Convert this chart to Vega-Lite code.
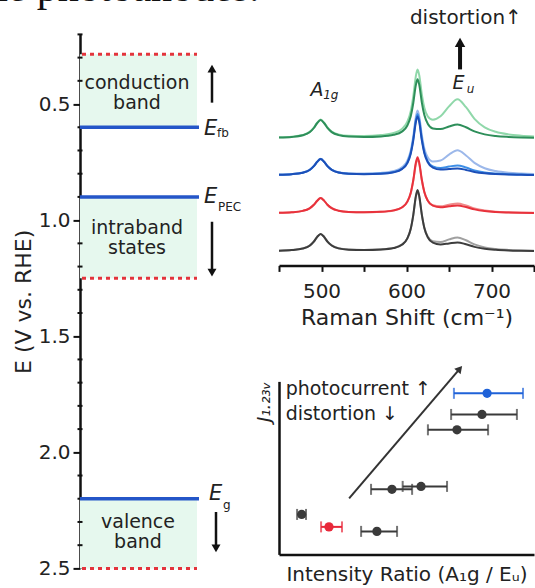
{
"$schema": "https://vega.github.io/schema/vega-lite/v6.json",
"background": "white",
"padding": {"left": -25, "top": -33.6, "right": 0, "bottom": 6},
"config": {"view": {"stroke": null}, "font": "DejaVu Sans", "axis": {"grid": false, "domainColor": "#111", "tickColor": "#111", "labelColor": "#222", "titleColor": "#222", "titleFontWeight": "normal", "labelFont": "DejaVu Sans", "titleFont": "DejaVu Sans", "labelOverlap": false}},
"spacing": 29,
"bounds": "flush",
"datasets": {
"header": [{"x":-105,"y":0.056,"t":"the photoanodes."}],
"minorTicks": [{"x":0,"y":0.2},{"x":0,"y":0.3},{"x":0,"y":0.4},{"x":0,"y":0.6},{"x":0,"y":0.7},{"x":0,"y":0.8},{"x":0,"y":0.9},{"x":0,"y":1.1},{"x":0,"y":1.2},{"x":0,"y":1.3},{"x":0,"y":1.4},{"x":0,"y":1.6},{"x":0,"y":1.7},{"x":0,"y":1.8},{"x":0,"y":1.9},{"x":0,"y":2.1},{"x":0,"y":2.2},{"x":0,"y":2.3},{"x":0,"y":2.4}],
"bands": [{"x0":0,"x1":117,"y0":0.285,"y1":0.6},{"x0":0,"x1":117,"y0":0.9,"y1":1.25},{"x0":0,"x1":117,"y0":2.2,"y1":2.5}],
"redlines": [{"x0":2,"x1":117,"y":0.285},{"x0":2,"x1":117,"y":1.25},{"x0":2,"x1":117,"y":2.5}],
"bluelines": [{"x0":0,"x1":119,"y":0.6},{"x0":0,"x1":119,"y":0.9},{"x0":0,"x1":119,"y":2.2}],
"arrows": [{"x":132,"y0":0.494,"y1":0.36},{"x":132,"y0":1.007,"y1":1.215},{"x":136,"y0":2.257,"y1":2.405}],
"headsUp": [{"x":132,"y":0.347}],
"headsDown": [{"x":132,"y":1.226},{"x":136,"y":2.414}],
"bandtext": [{"x":57,"y":0.408,"t":"conduction\nband"},{"x":57,"y":1.036,"t":"intraband\nstates"},{"x":58,"y":2.302,"t":"valence\nband"}],
"eLetters": [{"x":124,"y":0.606,"t":"E"},{"x":124,"y":0.9,"t":"E"},{"x":129,"y":2.18,"t":"E"}],
"eSubs": [{"x":137,"y":0.625,"t":"fb"},{"x":138,"y":0.943,"t":"PEC"},{"x":143,"y":2.225,"t":"g"}],
"ramanBig": [{"x":487,"y":169,"t":"A"},{"x":654,"y":176,"t":"E"}],
"ramanSub": [{"x":502,"y":166,"t":"1g"},{"x":671,"y":172,"t":"u"}],
"ramanNote": [{"x":604,"y":241,"t":"distortion↑"}],
"ramanArrow": [{"x":663,"y0":196,"y1":220}],
"ramanHead": [{"x":663,"y":223}],
"pts": [{"x":81.6,"lo":68.6,"hi":95.7,"y":93.1,"c":"blue"},{"x":79.6,"lo":67.5,"hi":93.3,"y":80.9,"c":"dark"},{"x":69.8,"lo":58.4,"hi":82.0,"y":72.0,"c":"dark"},{"x":55.7,"lo":48.5,"hi":65.9,"y":39.3,"c":"dark"},{"x":44.3,"lo":36.1,"hi":52.2,"y":37.6,"c":"dark"},{"x":8.9,"lo":7.1,"hi":10.6,"y":23.1,"c":"dark"},{"x":19.6,"lo":16.5,"hi":24.7,"y":15.9,"c":"red"},{"x":38.4,"lo":32.2,"hi":46.3,"y":13.3,"c":"dark"}],
"sArrow": [{"x":27.5,"y":32.4,"x2":70.7,"y2":107.0}],
"sHead": [{"x":70.9,"y":107.3}],
"sText": [{"x":2.6,"y":95.4,"t":"photocurrent ↑"},{"x":2.6,"y":80.9,"t":"distortion ↓"}],
"raman": [
{"s":"g2","x":450,"y":128.1},{"s":"g2","x":465,"y":128.7},{"s":"g2","x":478,"y":130.4},{"s":"g2","x":486,"y":133.5},{"s":"g2","x":491,"y":137.8},{"s":"g2","x":495,"y":142.8},{"s":"g2","x":499,"y":145.8},{"s":"g2","x":503,"y":142.8},{"s":"g2","x":507,"y":138.0},{"s":"g2","x":512,"y":133.8},{"s":"g2","x":520,"y":130.9},{"s":"g2","x":532,"y":129.6},{"s":"g2","x":550,"y":129.4},{"s":"g2","x":570,"y":130.3},{"s":"g2","x":585,"y":132.5},{"s":"g2","x":595,"y":136.8},{"s":"g2","x":601,"y":143.7},{"s":"g2","x":605,"y":154.3},{"s":"g2","x":608,"y":169.2},{"s":"g2","x":611,"y":189.3},{"s":"g2","x":613,"y":195.9},{"s":"g2","x":615,"y":190.1},{"s":"g2","x":618,"y":171.3},{"s":"g2","x":621,"y":157.7},{"s":"g2","x":625,"y":149.1},{"s":"g2","x":631,"y":145.7},{"s":"g2","x":640,"y":149.1},{"s":"g2","x":650,"y":159.0},{"s":"g2","x":660,"y":166.1},{"s":"g2","x":670,"y":158.2},{"s":"g2","x":680,"y":146.6},{"s":"g2","x":692,"y":138.1},{"s":"g2","x":705,"y":133.6},{"s":"g2","x":720,"y":131.0},{"s":"g2","x":735,"y":129.7},{"s":"g2","x":750,"y":128.9},
{"s":"g1","x":450,"y":127.8},{"s":"g1","x":465,"y":128.4},{"s":"g1","x":478,"y":130.1},{"s":"g1","x":486,"y":133.1},{"s":"g1","x":491,"y":137.4},{"s":"g1","x":495,"y":142.4},{"s":"g1","x":499,"y":145.4},{"s":"g1","x":503,"y":142.4},{"s":"g1","x":507,"y":137.5},{"s":"g1","x":512,"y":133.3},{"s":"g1","x":520,"y":130.3},{"s":"g1","x":532,"y":128.9},{"s":"g1","x":550,"y":128.5},{"s":"g1","x":570,"y":129.0},{"s":"g1","x":585,"y":130.6},{"s":"g1","x":595,"y":134.0},{"s":"g1","x":601,"y":139.9},{"s":"g1","x":605,"y":149.2},{"s":"g1","x":608,"y":162.4},{"s":"g1","x":611,"y":180.3},{"s":"g1","x":613,"y":186.1},{"s":"g1","x":615,"y":180.6},{"s":"g1","x":618,"y":163.1},{"s":"g1","x":621,"y":150.3},{"s":"g1","x":625,"y":141.7},{"s":"g1","x":631,"y":137.0},{"s":"g1","x":640,"y":136.3},{"s":"g1","x":650,"y":138.9},{"s":"g1","x":660,"y":141.0},{"s":"g1","x":670,"y":138.1},{"s":"g1","x":680,"y":134.0},{"s":"g1","x":692,"y":131.0},{"s":"g1","x":705,"y":129.4},{"s":"g1","x":720,"y":128.5},{"s":"g1","x":735,"y":128.0},{"s":"g1","x":750,"y":127.7},
{"s":"b3","x":450,"y":90.9},{"s":"b3","x":465,"y":91.4},{"s":"b3","x":478,"y":92.9},{"s":"b3","x":486,"y":95.6},{"s":"b3","x":491,"y":99.5},{"s":"b3","x":495,"y":103.9},{"s":"b3","x":499,"y":106.6},{"s":"b3","x":503,"y":103.9},{"s":"b3","x":507,"y":99.5},{"s":"b3","x":512,"y":95.8},{"s":"b3","x":520,"y":93.2},{"s":"b3","x":532,"y":92.0},{"s":"b3","x":550,"y":91.8},{"s":"b3","x":570,"y":92.5},{"s":"b3","x":585,"y":94.4},{"s":"b3","x":595,"y":98.4},{"s":"b3","x":601,"y":104.8},{"s":"b3","x":605,"y":114.9},{"s":"b3","x":608,"y":129.2},{"s":"b3","x":611,"y":148.5},{"s":"b3","x":613,"y":154.8},{"s":"b3","x":615,"y":149.0},{"s":"b3","x":618,"y":130.5},{"s":"b3","x":621,"y":117.0},{"s":"b3","x":625,"y":108.2},{"s":"b3","x":631,"y":103.9},{"s":"b3","x":640,"y":104.9},{"s":"b3","x":650,"y":110.8},{"s":"b3","x":660,"y":115.1},{"s":"b3","x":670,"y":109.9},{"s":"b3","x":680,"y":102.5},{"s":"b3","x":692,"y":97.2},{"s":"b3","x":705,"y":94.3},{"s":"b3","x":720,"y":92.6},{"s":"b3","x":735,"y":91.8},{"s":"b3","x":750,"y":91.3},
{"s":"b2","x":450,"y":90.7},{"s":"b2","x":465,"y":91.2},{"s":"b2","x":478,"y":92.7},{"s":"b2","x":486,"y":95.4},{"s":"b2","x":491,"y":99.2},{"s":"b2","x":495,"y":103.6},{"s":"b2","x":499,"y":106.3},{"s":"b2","x":503,"y":103.7},{"s":"b2","x":507,"y":99.3},{"s":"b2","x":512,"y":95.6},{"s":"b2","x":520,"y":92.9},{"s":"b2","x":532,"y":91.7},{"s":"b2","x":550,"y":91.3},{"s":"b2","x":570,"y":91.8},{"s":"b2","x":585,"y":93.4},{"s":"b2","x":595,"y":97.0},{"s":"b2","x":601,"y":103.0},{"s":"b2","x":605,"y":112.8},{"s":"b2","x":608,"y":126.7},{"s":"b2","x":611,"y":145.4},{"s":"b2","x":613,"y":151.5},{"s":"b2","x":615,"y":145.6},{"s":"b2","x":618,"y":127.1},{"s":"b2","x":621,"y":113.5},{"s":"b2","x":625,"y":104.3},{"s":"b2","x":631,"y":99.0},{"s":"b2","x":640,"y":97.4},{"s":"b2","x":650,"y":98.8},{"s":"b2","x":660,"y":100.0},{"s":"b2","x":670,"y":97.9},{"s":"b2","x":680,"y":95.0},{"s":"b2","x":692,"y":92.9},{"s":"b2","x":705,"y":91.8},{"s":"b2","x":720,"y":91.1},{"s":"b2","x":735,"y":90.8},{"s":"b2","x":750,"y":90.5},
{"s":"b1","x":450,"y":90.7},{"s":"b1","x":465,"y":91.2},{"s":"b1","x":478,"y":92.7},{"s":"b1","x":486,"y":95.4},{"s":"b1","x":491,"y":99.2},{"s":"b1","x":495,"y":103.6},{"s":"b1","x":499,"y":106.3},{"s":"b1","x":503,"y":103.6},{"s":"b1","x":507,"y":99.2},{"s":"b1","x":512,"y":95.5},{"s":"b1","x":520,"y":92.8},{"s":"b1","x":532,"y":91.6},{"s":"b1","x":550,"y":91.2},{"s":"b1","x":570,"y":91.6},{"s":"b1","x":585,"y":93.1},{"s":"b1","x":595,"y":96.5},{"s":"b1","x":601,"y":102.3},{"s":"b1","x":605,"y":111.7},{"s":"b1","x":608,"y":125.1},{"s":"b1","x":611,"y":143.2},{"s":"b1","x":613,"y":149.0},{"s":"b1","x":615,"y":143.3},{"s":"b1","x":618,"y":125.4},{"s":"b1","x":621,"y":112.2},{"s":"b1","x":625,"y":103.2},{"s":"b1","x":631,"y":97.8},{"s":"b1","x":640,"y":95.8},{"s":"b1","x":650,"y":96.3},{"s":"b1","x":660,"y":97.0},{"s":"b1","x":670,"y":95.5},{"s":"b1","x":680,"y":93.5},{"s":"b1","x":692,"y":92.1},{"s":"b1","x":705,"y":91.3},{"s":"b1","x":720,"y":90.8},{"s":"b1","x":735,"y":90.6},{"s":"b1","x":750,"y":90.4},
{"s":"r2","x":450,"y":52.6},{"s":"r2","x":465,"y":53.1},{"s":"r2","x":478,"y":54.5},{"s":"r2","x":486,"y":57.1},{"s":"r2","x":491,"y":60.6},{"s":"r2","x":495,"y":64.7},{"s":"r2","x":499,"y":67.3},{"s":"r2","x":503,"y":64.8},{"s":"r2","x":507,"y":60.7},{"s":"r2","x":512,"y":57.2},{"s":"r2","x":520,"y":54.7},{"s":"r2","x":532,"y":53.5},{"s":"r2","x":550,"y":53.2},{"s":"r2","x":570,"y":53.7},{"s":"r2","x":585,"y":55.0},{"s":"r2","x":595,"y":58.2},{"s":"r2","x":601,"y":63.6},{"s":"r2","x":605,"y":72.2},{"s":"r2","x":608,"y":84.6},{"s":"r2","x":611,"y":101.1},{"s":"r2","x":613,"y":106.5},{"s":"r2","x":615,"y":101.3},{"s":"r2","x":618,"y":85.1},{"s":"r2","x":621,"y":73.1},{"s":"r2","x":625,"y":64.9},{"s":"r2","x":631,"y":60.2},{"s":"r2","x":640,"y":59.1},{"s":"r2","x":650,"y":60.7},{"s":"r2","x":660,"y":61.9},{"s":"r2","x":670,"y":59.9},{"s":"r2","x":680,"y":57.0},{"s":"r2","x":692,"y":54.9},{"s":"r2","x":705,"y":53.7},{"s":"r2","x":720,"y":53.1},{"s":"r2","x":735,"y":52.7},{"s":"r2","x":750,"y":52.6},
{"s":"r1","x":450,"y":52.6},{"s":"r1","x":465,"y":53.1},{"s":"r1","x":478,"y":54.5},{"s":"r1","x":486,"y":57.1},{"s":"r1","x":491,"y":60.6},{"s":"r1","x":495,"y":64.7},{"s":"r1","x":499,"y":67.3},{"s":"r1","x":503,"y":64.8},{"s":"r1","x":507,"y":60.7},{"s":"r1","x":512,"y":57.2},{"s":"r1","x":520,"y":54.7},{"s":"r1","x":532,"y":53.5},{"s":"r1","x":550,"y":53.2},{"s":"r1","x":570,"y":53.6},{"s":"r1","x":585,"y":55.0},{"s":"r1","x":595,"y":58.2},{"s":"r1","x":601,"y":63.8},{"s":"r1","x":605,"y":72.7},{"s":"r1","x":608,"y":85.5},{"s":"r1","x":611,"y":102.6},{"s":"r1","x":613,"y":108.2},{"s":"r1","x":615,"y":102.8},{"s":"r1","x":618,"y":85.9},{"s":"r1","x":621,"y":73.4},{"s":"r1","x":625,"y":64.8},{"s":"r1","x":631,"y":59.8},{"s":"r1","x":640,"y":58.2},{"s":"r1","x":650,"y":59.1},{"s":"r1","x":660,"y":59.9},{"s":"r1","x":670,"y":58.3},{"s":"r1","x":680,"y":56.0},{"s":"r1","x":692,"y":54.3},{"s":"r1","x":705,"y":53.4},{"s":"r1","x":720,"y":52.9},{"s":"r1","x":735,"y":52.6},{"s":"r1","x":750,"y":52.5},
{"s":"k2","x":450,"y":14.7},{"s":"k2","x":465,"y":15.4},{"s":"k2","x":478,"y":17.0},{"s":"k2","x":486,"y":19.8},{"s":"k2","x":491,"y":23.9},{"s":"k2","x":495,"y":28.6},{"s":"k2","x":499,"y":31.4},{"s":"k2","x":503,"y":28.6},{"s":"k2","x":507,"y":23.9},{"s":"k2","x":512,"y":20.0},{"s":"k2","x":520,"y":17.1},{"s":"k2","x":532,"y":15.8},{"s":"k2","x":550,"y":15.4},{"s":"k2","x":570,"y":16.0},{"s":"k2","x":585,"y":17.5},{"s":"k2","x":595,"y":21.0},{"s":"k2","x":601,"y":27.1},{"s":"k2","x":605,"y":36.6},{"s":"k2","x":608,"y":50.1},{"s":"k2","x":611,"y":68.2},{"s":"k2","x":613,"y":74.1},{"s":"k2","x":615,"y":68.4},{"s":"k2","x":618,"y":50.8},{"s":"k2","x":621,"y":37.7},{"s":"k2","x":625,"y":28.9},{"s":"k2","x":631,"y":24.1},{"s":"k2","x":640,"y":23.3},{"s":"k2","x":650,"y":26.0},{"s":"k2","x":660,"y":28.0},{"s":"k2","x":670,"y":25.1},{"s":"k2","x":680,"y":21.0},{"s":"k2","x":692,"y":18.0},{"s":"k2","x":705,"y":16.4},{"s":"k2","x":720,"y":15.5},{"s":"k2","x":735,"y":15.0},{"s":"k2","x":750,"y":14.7},
{"s":"k1","x":450,"y":14.7},{"s":"k1","x":465,"y":15.3},{"s":"k1","x":478,"y":16.9},{"s":"k1","x":486,"y":19.7},{"s":"k1","x":491,"y":23.8},{"s":"k1","x":495,"y":28.5},{"s":"k1","x":499,"y":31.3},{"s":"k1","x":503,"y":28.5},{"s":"k1","x":507,"y":23.8},{"s":"k1","x":512,"y":19.9},{"s":"k1","x":520,"y":17.0},{"s":"k1","x":532,"y":15.7},{"s":"k1","x":550,"y":15.3},{"s":"k1","x":570,"y":15.8},{"s":"k1","x":585,"y":17.3},{"s":"k1","x":595,"y":20.8},{"s":"k1","x":601,"y":27.0},{"s":"k1","x":605,"y":36.7},{"s":"k1","x":608,"y":50.6},{"s":"k1","x":611,"y":69.3},{"s":"k1","x":613,"y":75.3},{"s":"k1","x":615,"y":69.4},{"s":"k1","x":618,"y":51.0},{"s":"k1","x":621,"y":37.4},{"s":"k1","x":625,"y":28.1},{"s":"k1","x":631,"y":22.7},{"s":"k1","x":640,"y":20.9},{"s":"k1","x":650,"y":22.0},{"s":"k1","x":660,"y":23.0},{"s":"k1","x":670,"y":21.1},{"s":"k1","x":680,"y":18.5},{"s":"k1","x":692,"y":16.6},{"s":"k1","x":705,"y":15.6},{"s":"k1","x":720,"y":15.0},{"s":"k1","x":735,"y":14.7},{"s":"k1","x":750,"y":14.5}
]
},
"hconcat": [
{
"width": 170, "height": 534,
"layer": [
{"data": {"name": "bands"}, "mark": {"type": "rect", "fill": "#e6f8ee"},
 "encoding": {"x": {"field": "x0", "type": "quantitative", "scale": {"domain": [0, 170], "nice": false}, "axis": null}, "x2": {"field": "x1"},
  "y": {"field": "y0", "type": "quantitative", "scale": {"domain": [0.2, 2.5], "reverse": true, "nice": false, "zero": false},
   "axis": {"title": "E (V vs. RHE)", "values": [0.5, 1.0, 1.5, 2.0, 2.5], "format": ".1f", "labelOverlap": false,
    "tickSize": 7, "tickWidth": 2, "domainWidth": 2.5, "labelFontSize": 20, "labelPadding": 3, "titleFontSize": 22, "titlePadding": 3, "titleY": 267}},
  "y2": {"field": "y1"}}},
{"data": {"name": "header"}, "mark": {"type": "text", "font": "Liberation Serif", "fontSize": 42, "color": "#111", "align": "left", "baseline": "alphabetic"},
 "encoding": {"x": {"field": "x", "type": "quantitative", "scale": {"domain": [0, 170], "nice": false}, "axis": null},
  "y": {"field": "y", "type": "quantitative", "scale": {"domain": [0.2, 2.5], "reverse": true, "nice": false, "zero": false}}, "text": {"field": "t"}}},
{"data": {"name": "minorTicks"}, "mark": {"type": "tick", "orient": "horizontal", "size": 5, "thickness": 2, "color": "#111", "opacity": 1},
 "encoding": {"x": {"field": "x", "type": "quantitative", "scale": {"domain": [0, 170], "nice": false}, "axis": null},
  "y": {"field": "y", "type": "quantitative", "scale": {"domain": [0.2, 2.5], "reverse": true, "nice": false, "zero": false}}}},
{"data": {"name": "redlines"}, "mark": {"type": "rule", "color": "#e3343c", "strokeWidth": 3, "strokeDash": [4, 4]},
 "encoding": {"x": {"field": "x0", "type": "quantitative", "scale": {"domain": [0, 170], "nice": false}, "axis": null}, "x2": {"field": "x1"},
  "y": {"field": "y", "type": "quantitative", "scale": {"domain": [0.2, 2.5], "reverse": true, "nice": false, "zero": false}}}},
{"data": {"name": "bluelines"}, "mark": {"type": "rule", "color": "#2456c8", "strokeWidth": 3.5},
 "encoding": {"x": {"field": "x0", "type": "quantitative", "scale": {"domain": [0, 170], "nice": false}, "axis": null}, "x2": {"field": "x1"},
  "y": {"field": "y", "type": "quantitative", "scale": {"domain": [0.2, 2.5], "reverse": true, "nice": false, "zero": false}}}},
{"data": {"name": "arrows"}, "mark": {"type": "rule", "color": "#111", "strokeWidth": 2.5},
 "encoding": {"x": {"field": "x", "type": "quantitative", "scale": {"domain": [0, 170], "nice": false}, "axis": null},
  "y": {"field": "y0", "type": "quantitative", "scale": {"domain": [0.2, 2.5], "reverse": true, "nice": false, "zero": false}}, "y2": {"field": "y1"}}},
{"data": {"name": "headsUp"}, "mark": {"type": "point", "shape": "triangle-up", "filled": true, "color": "#111", "size": 80, "opacity": 1},
 "encoding": {"x": {"field": "x", "type": "quantitative", "scale": {"domain": [0, 170], "nice": false}, "axis": null},
  "y": {"field": "y", "type": "quantitative", "scale": {"domain": [0.2, 2.5], "reverse": true, "nice": false, "zero": false}}}},
{"data": {"name": "headsDown"}, "mark": {"type": "point", "shape": "triangle-down", "filled": true, "color": "#111", "size": 80, "opacity": 1},
 "encoding": {"x": {"field": "x", "type": "quantitative", "scale": {"domain": [0, 170], "nice": false}, "axis": null},
  "y": {"field": "y", "type": "quantitative", "scale": {"domain": [0.2, 2.5], "reverse": true, "nice": false, "zero": false}}}},
{"data": {"name": "bandtext"}, "mark": {"type": "text", "fontSize": 19, "color": "#222", "align": "center", "baseline": "middle", "lineBreak": "\n", "lineHeight": 20},
 "encoding": {"x": {"field": "x", "type": "quantitative", "scale": {"domain": [0, 170], "nice": false}, "axis": null},
  "y": {"field": "y", "type": "quantitative", "scale": {"domain": [0.2, 2.5], "reverse": true, "nice": false, "zero": false}}, "text": {"field": "t"}}},
{"data": {"name": "eLetters"}, "mark": {"type": "text", "fontSize": 21, "fontStyle": "italic", "color": "#222", "align": "left", "baseline": "middle"},
 "encoding": {"x": {"field": "x", "type": "quantitative", "scale": {"domain": [0, 170], "nice": false}, "axis": null},
  "y": {"field": "y", "type": "quantitative", "scale": {"domain": [0.2, 2.5], "reverse": true, "nice": false, "zero": false}}, "text": {"field": "t"}}},
{"data": {"name": "eSubs"}, "mark": {"type": "text", "fontSize": 12, "color": "#222", "align": "left", "baseline": "middle"},
 "encoding": {"x": {"field": "x", "type": "quantitative", "scale": {"domain": [0, 170], "nice": false}, "axis": null},
  "y": {"field": "y", "type": "quantitative", "scale": {"domain": [0.2, 2.5], "reverse": true, "nice": false, "zero": false}}, "text": {"field": "t"}}}
]
},
{
"vconcat": [
{
"width": 255, "height": 231,
"layer": [
{"data": {"name": "raman"}, "mark": {"type": "line", "strokeWidth": 2, "interpolate": "monotone"},
 "encoding": {"x": {"field": "x", "type": "quantitative", "scale": {"domain": [450, 750], "nice": false},
   "axis": {"title": "Raman Shift (cm⁻¹)", "values": [450,500,550,600,650,700,750], "labelExpr": "datum.value % 100 === 0 ? datum.label : ''", "labelOverlap": false,
    "tickSize": 6, "tickWidth": 2, "domainWidth": 2.5, "labelFontSize": 20, "labelPadding": 10, "titleFontSize": 22, "titlePadding": 6}},
  "y": {"field": "y", "type": "quantitative", "scale": {"domain": [0, 231], "nice": false}, "axis": null},
  "color": {"field": "s", "type": "nominal", "legend": null, "scale": {"domain": ["g2","g1","b3","b2","b1","r2","r1","k2","k1"], "range": ["#90d8aa","#2e8f5a","#9cb8ea","#3d8ee6","#1c4fb8","#f08a8a","#e8323c","#a0a0a0","#3d3d3d"]}}}},
{"data": {"name": "ramanArrow"}, "mark": {"type": "rule", "color": "#111", "strokeWidth": 4},
 "encoding": {"x": {"field": "x", "type": "quantitative", "scale": {"domain": [450, 750], "nice": false}},
  "y": {"field": "y0", "type": "quantitative", "scale": {"domain": [0, 231], "nice": false}, "axis": null}, "y2": {"field": "y1"}}},
{"data": {"name": "ramanHead"}, "mark": {"type": "point", "shape": "triangle-up", "filled": true, "color": "#111", "size": 110, "opacity": 1},
 "encoding": {"x": {"field": "x", "type": "quantitative", "scale": {"domain": [450, 750], "nice": false}},
  "y": {"field": "y", "type": "quantitative", "scale": {"domain": [0, 231], "nice": false}, "axis": null}}},
{"data": {"name": "ramanBig"}, "mark": {"type": "text", "fontSize": 19, "fontStyle": "italic", "color": "#222", "align": "left", "baseline": "alphabetic"},
 "encoding": {"x": {"field": "x", "type": "quantitative", "scale": {"domain": [450, 750], "nice": false}},
  "y": {"field": "y", "type": "quantitative", "scale": {"domain": [0, 231], "nice": false}, "axis": null}, "text": {"field": "t"}}},
{"data": {"name": "ramanSub"}, "mark": {"type": "text", "fontSize": 12, "fontStyle": "italic", "color": "#222", "align": "left", "baseline": "alphabetic"},
 "encoding": {"x": {"field": "x", "type": "quantitative", "scale": {"domain": [450, 750], "nice": false}},
  "y": {"field": "y", "type": "quantitative", "scale": {"domain": [0, 231], "nice": false}, "axis": null}, "text": {"field": "t"}}},
{"data": {"name": "ramanNote"}, "mark": {"type": "text", "fontSize": 20, "color": "#222", "align": "left", "baseline": "alphabetic"},
 "encoding": {"x": {"field": "x", "type": "quantitative", "scale": {"domain": [450, 750], "nice": false}},
  "y": {"field": "y", "type": "quantitative", "scale": {"domain": [0, 231], "nice": false}, "axis": null}, "text": {"field": "t"}}}
]
},
{
"width": 255, "height": 173,
"layer": [
{"data": {"name": "pts"}, "mark": {"type": "errorbar", "ticks": true, "size": 11, "thickness": 2},
 "encoding": {"x": {"field": "lo", "type": "quantitative", "scale": {"domain": [0, 100], "nice": false},
   "axis": {"title": "Intensity Ratio (A₁g / Eᵤ)", "ticks": false, "labels": false, "domainWidth": 2.5, "titleFontSize": 20, "titlePadding": 10}}, "x2": {"field": "hi"},
  "y": {"field": "y", "type": "quantitative", "scale": {"domain": [0, 100], "nice": false},
   "axis": {"title": "J₁.₂₃ᵥ", "titleAnchor": "end", "ticks": false, "labels": false, "domainWidth": 2.5, "titleFontSize": 18, "titleFontStyle": "italic", "titlePadding": 6}},
  "color": {"field": "c", "type": "nominal", "legend": null, "scale": {"domain": ["dark","blue","red"], "range": ["#3a3a3a","#1f62d8","#e8283a"]}}}},
{"data": {"name": "pts"}, "mark": {"type": "circle", "size": 85, "opacity": 1},
 "encoding": {"x": {"field": "x", "type": "quantitative", "scale": {"domain": [0, 100], "nice": false},
   "axis": {"title": "Intensity Ratio (A₁g / Eᵤ)", "ticks": false, "labels": false, "domainWidth": 2.5, "titleFontSize": 20, "titlePadding": 10}},
  "y": {"field": "y", "type": "quantitative", "scale": {"domain": [0, 100], "nice": false},
   "axis": {"title": "J₁.₂₃ᵥ", "titleAnchor": "end", "ticks": false, "labels": false, "domainWidth": 2.5, "titleFontSize": 18, "titleFontStyle": "italic", "titlePadding": 6}},
  "color": {"field": "c", "type": "nominal", "legend": null, "scale": {"domain": ["dark","blue","red"], "range": ["#3a3a3a","#1f62d8","#e8283a"]}}}},
{"data": {"name": "sArrow"}, "mark": {"type": "rule", "color": "#333", "strokeWidth": 2},
 "encoding": {"x": {"field": "x", "type": "quantitative", "scale": {"domain": [0, 100], "nice": false}},
  "y": {"field": "y", "type": "quantitative", "scale": {"domain": [0, 100], "nice": false}},
  "x2": {"field": "x2"}, "y2": {"field": "y2"}}},
{"data": {"name": "sHead"}, "mark": {"type": "point", "shape": "triangle-up", "angle": 40.6, "filled": true, "color": "#333", "size": 70, "opacity": 1},
 "encoding": {"x": {"field": "x", "type": "quantitative", "scale": {"domain": [0, 100], "nice": false}},
  "y": {"field": "y", "type": "quantitative", "scale": {"domain": [0, 100], "nice": false}}}},
{"data": {"name": "sText"}, "mark": {"type": "text", "fontSize": 19, "color": "#222", "align": "left", "baseline": "middle"},
 "encoding": {"x": {"field": "x", "type": "quantitative", "scale": {"domain": [0, 100], "nice": false}},
  "y": {"field": "y", "type": "quantitative", "scale": {"domain": [0, 100], "nice": false}}, "text": {"field": "t"}}}
]
}
],
"spacing": 116,
"bounds": "flush",
"resolve": {"scale": {"color": "independent"}}
}
]
}
